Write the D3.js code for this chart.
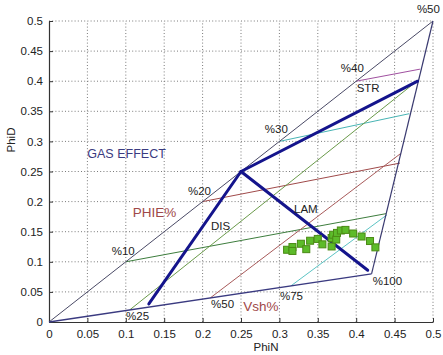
<!DOCTYPE html>
<html><head><meta charset="utf-8">
<script src="https://cdn.jsdelivr.net/npm/d3@7"></script>
<style>body{margin:0;background:#fff}svg{display:block;font-family:"Liberation Sans",Arial,sans-serif}</style>
</head><body><svg id="c" width="443" height="355"></svg>
<script>
// ---- data ----
const xTicks = [0,0.05,0.1,0.15,0.2,0.25,0.3,0.35,0.4,0.45,0.5];
const yTicks = [0,0.05,0.1,0.15,0.2,0.25,0.3,0.35,0.4,0.45,0.5];
const xTickLabels = ["0","0.05","0.1","0.15","0.2","0.25","0.3","0.35","0.4","0.45","0.5"];
const yTickLabels = ["0","0.05","0.1","0.15","0.2","0.25","0.3","0.35","0.4","0.45","0.5"];
const sandPoint = [0,0];
const shalePoint = [0.42,0.08];
const cleanPoint = [0.5,0.5];
const phieLabels = ["%10","%20","%30","%40","%50"];
const phieStart = [[0.1,0.1],[0.2,0.2],[0.3,0.3],[0.4,0.4]];
const phieEnd = [[0.439,0.18],[0.457,0.264],[0.469,0.346],[0.483,0.42]];
const vshLabels = ["%25","%50","%75","%100"];
const vshStart = [[0.105,0.02],[0.21,0.04],[0.315,0.06]];
const vshEnd = [[0.477,0.398],[0.458,0.28],[0.44,0.178]];
const modelNames = ["STR","DIS","LAM"];
const modelOrigin = [0.25,0.25];
const modelEnd = [[0.48,0.40],[0.13,0.03],[0.415,0.086]];
const phiN = [0.310,0.317,0.317,0.328,0.335,0.340,0.350,0.356,0.368,0.368,0.370,0.374,0.375,0.380,0.386,0.396,0.407,0.418,0.425];
const phiD = [0.120,0.1245,0.118,0.130,0.121,0.135,0.138,0.129,0.1395,0.1255,0.145,0.137,0.148,0.152,0.153,0.147,0.142,0.1345,0.124];

// ---- chart ----
const svg = d3.select("#c");
const x = d3.scaleLinear().domain([0,0.5]).range([49,433]);
const y = d3.scaleLinear().domain([0,0.5]).range([322,21]);

// grid
const g = svg.append("g");
g.selectAll(".gx").data(xTicks.slice(1)).enter().append("line")
 .attr("x1",d=>x(d)).attr("x2",d=>x(d)).attr("y1",y(0)).attr("y2",y(0.5))
 .attr("stroke","#7a7a7a").attr("stroke-width",1).attr("stroke-dasharray","1,2.2");
g.selectAll(".gy").data(yTicks.slice(1)).enter().append("line")
 .attr("y1",d=>y(d)).attr("y2",d=>y(d)).attr("x1",x(0)).attr("x2",x(0.5))
 .attr("stroke","#7a7a7a").attr("stroke-width",1).attr("stroke-dasharray","1,2.2");

// axes
const xAxis = d3.axisBottom(x).tickValues(xTicks).tickFormat((d,i)=>xTickLabels[i]).tickSizeInner(-4).tickSizeOuter(0).tickPadding(8);
const yAxis = d3.axisLeft(y).tickValues(yTicks).tickFormat((d,i)=>yTickLabels[i]).tickSizeInner(-4).tickSizeOuter(0).tickPadding(6);
const ax = svg.append("g").attr("transform",`translate(0,${y(0)})`).call(xAxis);
const ay = svg.append("g").attr("transform",`translate(${x(0)},0)`).call(yAxis);
[ax,ay].forEach(a=>{
  a.select(".domain").attr("stroke","#333").attr("stroke-width",1.2);
  a.selectAll(".tick line").attr("stroke","#333");
  a.selectAll("text").attr("font-size",11.5).attr("fill","#222").attr("font-family","Liberation Sans, Arial, sans-serif");
});

svg.append("text").attr("x",266).attr("y",351).attr("text-anchor","middle")
 .attr("font-size",11.5).attr("fill","#222").text("PhiN");
svg.append("text").attr("transform","translate(15,140) rotate(-90)").attr("text-anchor","middle")
 .attr("font-size",11.5).attr("fill","#222").text("PhiD");

const line = d3.line().x(d=>x(d[0])).y(d=>y(d[1]));

// PHIE lines
const phieColors = ["#3d7d3d","#a04a4a","#48b4b4","#a050a0"];
phieStart.forEach((s,i)=>{
  svg.append("path").attr("d",line([s,phieEnd[i]])).attr("fill","none")
   .attr("stroke",phieColors[i]).attr("stroke-width",1);
});
// Vsh lines
const vshColors = ["#6a9a4a","#a85a5a","#5cc4c4"];
vshStart.forEach((s,i)=>{
  svg.append("path").attr("d",line([s,vshEnd[i]])).attr("fill","none")
   .attr("stroke",vshColors[i]).attr("stroke-width",1);
});

// triangle
svg.append("path").attr("d",line([sandPoint,cleanPoint])).attr("fill","none").attr("stroke","#4a4a66").attr("stroke-width",1);
svg.append("path").attr("d",line([sandPoint,shalePoint])).attr("fill","none").attr("stroke","#3a3a80").attr("stroke-width",1.4);
svg.append("path").attr("d",line([shalePoint,cleanPoint])).attr("fill","none").attr("stroke","#3a3a70").attr("stroke-width",1.2);

// model lines
modelEnd.forEach(e=>{
  svg.append("path").attr("d",line([modelOrigin,e])).attr("fill","none")
   .attr("stroke","#14148c").attr("stroke-width",3).attr("stroke-linecap","round");
});

// data points
const pts = phiN.map((v,i)=>[v,phiD[i]]);
svg.selectAll(".pt").data(pts).enter().append("rect")
 .attr("x",d=>x(d[0])-3.5).attr("y",d=>y(d[1])-3.5).attr("width",7).attr("height",7)
 .attr("fill","#5dbb2a").attr("stroke","#4a8a14").attr("stroke-width",1);

// annotations
function lab(t,dx,dy,opt){
  opt=opt||{};
  svg.append("text").attr("x",x(dx)).attr("y",y(dy)).attr("text-anchor",opt.anchor||"start")
   .attr("font-size",opt.size||11.5).attr("fill",opt.fill||"#222").text(t);
}
lab(phieLabels[4],0.509,0.514,{anchor:"end"});
lab(phieLabels[3],0.380,0.415);
lab(modelNames[0],0.4006,0.382);
lab(phieLabels[2],0.281,0.314);
lab("GAS EFFECT",0.0499,0.273,{size:12.5,fill:"#3a3a80"});
lab(phieLabels[1],0.181,0.2117);
lab("PHIE%",0.109,0.175,{size:13.5,fill:"#a04848"});
lab(modelNames[1],0.211,0.153);
lab(phieLabels[0],0.0816,0.1117);
lab(modelNames[2],0.319,0.1817);
lab(vshLabels[3],0.4215,0.0617);
lab(vshLabels[2],0.3008,0.0367);
lab(vshLabels[1],0.211,0.0233);
lab("Vsh%",0.253,0.0183,{size:13.5,fill:"#a04848"});
lab(vshLabels[0],0.1003,0.0033);
</script></body></html>
